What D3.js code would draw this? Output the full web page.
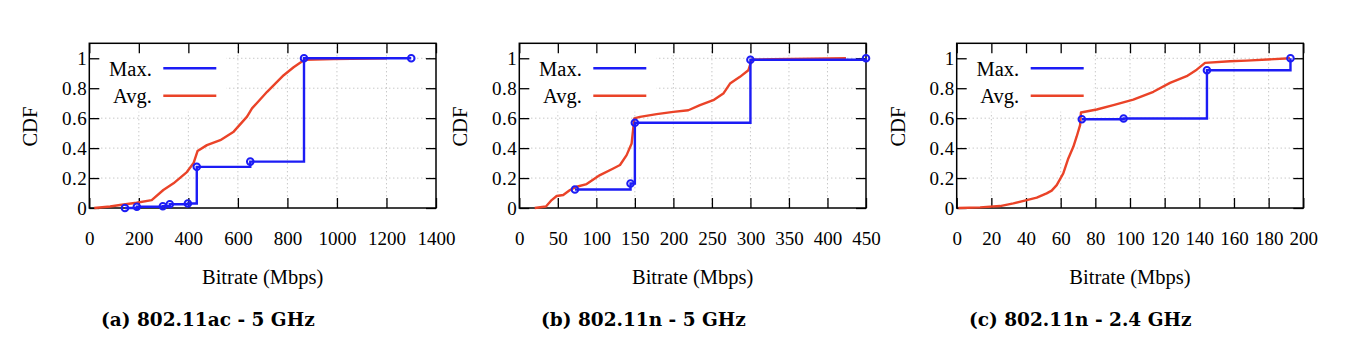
<!DOCTYPE html>
<html><head><meta charset="utf-8">
<script src="https://cdn.jsdelivr.net/npm/d3@7"></script>
<style>
html,body{margin:0;padding:0;background:#fff;}
svg{display:block;}
svg text{font-family:"Liberation Serif","Times New Roman",serif;}
svg text.cap{font-family:"DejaVu Serif",serif;font-weight:bold;}
</style></head>
<body>
<svg id="chart" width="1348" height="342"></svg>
<script>
// ---------- data ----------
const yTicks = [0, 0.2, 0.4, 0.6, 0.8, 1];
const yTickLabels = ["0", "0.2", "0.4", "0.6", "0.8", "1"];

// (a) 802.11ac - 5 GHz
const acTicks = [0, 200, 400, 600, 800, 1000, 1200, 1400];
const acMaxX = [144, 192, 297, 325, 398, 434, 650, 867, 1300];
const acMaxY = [0.0, 0.008, 0.012, 0.025, 0.03, 0.275, 0.31, 1.0, 1.0];
const acAvgX = [20, 84, 124, 191, 252, 299, 340, 394, 421, 437, 475, 529, 583, 637, 657, 718, 785, 825, 869, 987, 1200];
const acAvgY = [0, 0.01, 0.02, 0.035, 0.053, 0.12, 0.165, 0.24, 0.3, 0.38, 0.42, 0.453, 0.51, 0.61, 0.665, 0.776, 0.887, 0.94, 0.99, 0.995, 1.0];

// (b) 802.11n - 5 GHz
const n5Ticks = [0, 50, 100, 150, 200, 250, 300, 350, 400, 450];
const n5MaxX = [72.2, 144.4, 150, 300, 450];
const n5MaxY = [0.124, 0.164, 0.569, 0.99, 1.0];
const n5AvgX = [20, 34.6, 42, 48.5, 57, 65.8, 74.4, 87.4, 104.7, 122, 130.7, 139.3, 145.8, 149.3, 156.6, 178.3, 199.9, 219.4, 234.5, 251.8, 264.8, 273.5, 286.4, 297.3, 301.6, 329.7, 424];
const n5AvgY = [0, 0.01, 0.053, 0.08, 0.087, 0.12, 0.142, 0.16, 0.22, 0.264, 0.287, 0.353, 0.431, 0.598, 0.609, 0.627, 0.642, 0.653, 0.687, 0.72, 0.764, 0.831, 0.876, 0.92, 0.99, 0.993, 1.0];

// (c) 802.11n - 2.4 GHz
const n24Ticks = [0, 20, 40, 60, 80, 100, 120, 140, 160, 180, 200];
const n24MaxX = [72.2, 96.3, 144.4, 192.6];
const n24MaxY = [0.593, 0.598, 0.92, 1.0];
const n24AvgX = [1, 13.5, 25, 32.7, 40.4, 46.2, 51.9, 54.8, 57.7, 61.5, 64.4, 67.3, 69.2, 71.2, 71.7, 80.8, 90.4, 101.9, 113.5, 123.1, 132.7, 138.5, 143.3, 157.7, 167.3, 192.3];
const n24AvgY = [0, 0.004, 0.013, 0.031, 0.053, 0.069, 0.098, 0.116, 0.153, 0.231, 0.331, 0.409, 0.476, 0.553, 0.638, 0.658, 0.687, 0.724, 0.776, 0.836, 0.88, 0.924, 0.969, 0.98, 0.984, 1.0];

const captions = ["(a) 802.11ac - 5 GHz", "(b) 802.11n - 5 GHz", "(c) 802.11n - 2.4 GHz"];
const seriesNames = ["Max.", "Avg."];
const xTitle = "Bitrate (Mbps)";
const yTitle = "CDF";

// ---------- layout ----------
const panels = [
  {ticks: acTicks, max: [acMaxX, acMaxY], avg: [acAvgX, acAvgY], left: 89.3, right: 436, cap: captions[0], capX: 101},
  {ticks: n5Ticks, max: [n5MaxX, n5MaxY], avg: [n5AvgX, n5AvgY], left: 519.3, right: 866, cap: captions[1], capX: 541},
  {ticks: n24Ticks, max: [n24MaxX, n24MaxY], avg: [n24AvgX, n24AvgY], left: 956.7, right: 1303.3, cap: captions[2], capX: 969}
];
const plotTop = 43.3, plotBottom = 208;
const BLUE = "#1c1cf5", RED = "#ea4328";
const FS = 19, FT = 20.5;

const svg = d3.select("#chart");

panels.forEach(p => {
  const dom = d3.extent(p.ticks);
  const x = d3.scaleLinear().domain(dom).range([p.left, p.right]);
  const y = d3.scaleLinear().domain([0, 1.1]).range([plotBottom, plotTop]);
  const g = svg.append("g");

  // grid
  const grid = g.append("g").attr("stroke", "#b0b0b0").attr("stroke-width", 1).attr("stroke-dasharray", "1,3");
  p.ticks.slice(1, -1).forEach(t => {
    grid.append("line").attr("x1", x(t)).attr("x2", x(t)).attr("y1", plotTop).attr("y2", plotBottom);
  });
  yTicks.slice(1).forEach(t => {
    grid.append("line").attr("x1", p.left).attr("x2", p.right).attr("y1", y(t)).attr("y2", y(t));
  });

  // legend background (opaque key box)
  g.append("rect").attr("x", p.left + 1).attr("y", plotTop + 1)
    .attr("width", 136).attr("height", y(0.65) - plotTop).attr("fill", "#fff");

  // axes with ticks (inward, mirrored)
  const tl = 10;
  const xb = d3.axisBottom(x).tickValues(p.ticks).tickSize(-tl).tickFormat(d3.format("d"));
  const xt = d3.axisTop(x).tickValues(p.ticks).tickSize(-tl).tickFormat("");
  const yl = d3.axisLeft(y).tickValues(yTicks).tickSize(-tl).tickFormat((d, i) => yTickLabels[i]);
  const yr = d3.axisRight(y).tickValues(yTicks).tickSize(-tl).tickFormat("");
  const axX = g.append("g").attr("transform", `translate(0,${plotBottom})`).call(xb);
  const axT = g.append("g").attr("transform", `translate(0,${plotTop})`).call(xt);
  const axY = g.append("g").attr("transform", `translate(${p.left},0)`).call(yl);
  const axR = g.append("g").attr("transform", `translate(${p.right},0)`).call(yr);
  [axX, axT, axY, axR].forEach(a => {
    a.select(".domain").remove();
    a.attr("font-family", null).attr("font-size", null);
    a.selectAll(".tick line").attr("stroke", "#000").attr("stroke-width", 1.3);
    a.selectAll("text").attr("font-size", FS).attr("fill", "#000");
  });
  axX.selectAll("text").attr("dy", null).attr("y", 37);
  axY.selectAll("text").attr("x", -2).attr("dy", "0.34em").attr("letter-spacing", "0.5px");

  // frame
  g.append("rect").attr("x", p.left).attr("y", plotTop).attr("width", p.right - p.left).attr("height", plotBottom - plotTop)
    .attr("fill", "none").attr("stroke", "#000").attr("stroke-width", 1.5);

  // avg line
  const avgData = p.avg[0].map((v, i) => [v, p.avg[1][i]]);
  const line = d3.line().x(d => x(d[0])).y(d => y(d[1]));
  g.append("path").datum(avgData).attr("d", line).attr("fill", "none")
    .attr("stroke", RED).attr("stroke-width", 2.4).attr("stroke-linejoin", "round");

  // max step line
  const maxData = p.max[0].map((v, i) => [v, p.max[1][i]]);
  const stepLine = d3.line().x(d => x(d[0])).y(d => y(d[1])).curve(d3.curveStepAfter);
  g.append("path").datum(maxData).attr("d", stepLine).attr("fill", "none")
    .attr("stroke", BLUE).attr("stroke-width", 2.4);
  g.selectAll("circle.pt").data(maxData).enter().append("circle")
    .attr("cx", d => x(d[0])).attr("cy", d => y(d[1])).attr("r", 3.3)
    .attr("fill", "none").attr("stroke", BLUE).attr("stroke-width", 2);

  // legend
  const legY = [68.3, 95.8];
  const cols = [BLUE, RED];
  seriesNames.forEach((n, i) => {
    g.append("text").attr("x", p.left + 62.5).attr("y", legY[i] + 7.3).attr("text-anchor", "end")
      .attr("font-size", FT).text(n);
    g.append("line").attr("x1", p.left + 74).attr("x2", p.left + 127).attr("y1", legY[i]).attr("y2", legY[i])
      .attr("stroke", cols[i]).attr("stroke-width", 2.4);
  });

  // titles
  g.append("text").attr("transform", `translate(${p.left - 52},${(plotTop + plotBottom) / 2 + 1}) rotate(-90)`)
    .attr("text-anchor", "middle").attr("font-size", FT).text(yTitle);
  g.append("text").attr("x", (p.left + p.right) / 2).attr("y", 284).attr("text-anchor", "middle")
    .attr("font-size", FT).text(xTitle);

  // caption
  g.append("text").attr("class", "cap").attr("x", p.capX).attr("y", 326)
    .attr("font-size", 18.5).text(p.cap);
});
</script>
</body></html>
